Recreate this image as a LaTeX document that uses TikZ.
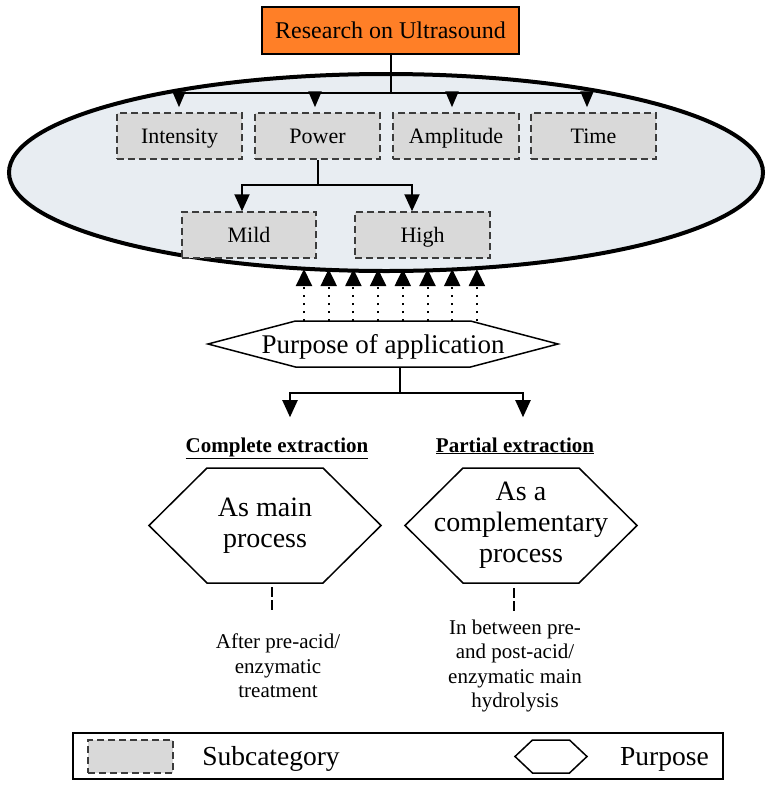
\documentclass[tikz,border=0pt]{standalone}
\usepackage{fontspec}
\setmainfont{Liberation Serif}
\usetikzlibrary{arrows.meta,shapes.geometric,calc}
\definecolor{orangeF}{RGB}{255,127,39}
\definecolor{ellF}{RGB}{232,237,242}
\definecolor{subF}{RGB}{217,217,217}
\definecolor{subD}{RGB}{60,60,60}
\newcommand{\myhex}[2]{\draw[hexline] (#1.west) -- ($(#1.north west)+(#2,0)$) -- ($(#1.north east)-(#2,0)$) -- (#1.east) -- ($(#1.south east)-(#2,0)$) -- ($(#1.south west)+(#2,0)$) -- cycle;}
\begin{document}
\begin{tikzpicture}[x=1pt,y=-1pt,
  conn/.style={line width=2pt},
  arr/.style={line width=2pt,-{Triangle[length=16pt,width=13pt]}},
  arrb/.style={line width=2pt,-{Triangle[length=17pt,width=15pt]}},
  dotarr/.style={line width=2pt,dash pattern=on 2pt off 6pt,-{Triangle[length=17pt,width=16pt]}},
  dline/.style={line width=2.5pt,dash pattern=on 10pt off 3pt},
  hexline/.style={line width=1.5pt,line join=miter},
  subbox/.style={draw=subD,fill=subF,line width=1.5pt,dash pattern=on 7pt off 4pt,minimum height=46pt,inner sep=0pt,font=\fontsize{22}{26}\selectfont,text height=14.5pt,text depth=0pt},
  hexnode/.style={inner sep=0pt,outer sep=0pt,align=center},
  big/.style={font=\fontsize{28}{31}\selectfont},
  small/.style={font=\fontsize{21}{24.5}\selectfont}]
\useasboundingbox (0,0) rectangle (771,788);

% ellipse background
\node[ellipse,draw,line width=4pt,fill=ellF,minimum width=754pt,minimum height=197pt,inner sep=0pt] (ell) at (386,172.5) {};

% top box
\node[draw,line width=1.2pt,fill=orangeF,minimum width=257pt,minimum height=47pt,inner sep=0pt,font=\fontsize{24}{28}\selectfont,text height=16pt,text depth=0pt] (res) at (390.5,30.5) {Research on Ultrasound};

% subcategories
\node[subbox,minimum width=125pt] (inten) at (179.5,136) {Intensity};
\node[subbox,minimum width=125pt] (power) at (317.5,136) {Power};
\node[subbox,minimum width=126pt] (ampl) at (456,136) {Amplitude};
\node[subbox,minimum width=125pt] (time) at (593.5,136) {Time};
\node[subbox,minimum width=134pt] (mild) at (249,235) {Mild};
\node[subbox,minimum width=135pt] (high) at (422.5,235) {High};

\coordinate (hb) at ($(res.south)+(0,38)$);
\draw[conn] (res.south) -- (hb);
\draw[arr,shorten >=5pt] (hb) -| ([xshift=-0.5pt]inten.north);
\draw[arr,shorten >=5pt] (hb) -| ([xshift=-2.5pt]power.north);
\draw[arr,shorten >=5pt] (hb) -| ([xshift=-4pt]ampl.north);
\draw[arr,shorten >=5pt] (hb) -| ([xshift=-6.5pt]time.north);

\coordinate (pm) at ($(power.south)+(0,25)$);
\draw[conn] (power.south) -- (pm);
\draw[arrb] (pm) -| ([xshift=-7pt]mild.north);
\draw[arrb] (pm) -| ([xshift=-10.5pt]high.north);

% purpose of application
\node[hexnode,font=\fontsize{27}{31}\selectfont,minimum width=350pt,minimum height=46pt,text height=18pt,text depth=0pt] (purp) at (383,344) {Purpose of application};
\myhex{purp}{87.5}

\foreach \i in {0,...,7} {
  \coordinate (d\i) at ($(purp.north west)+(96+\i*24.7,0)$);
  \draw[dotarr,shorten >=-4pt] (d\i) -- (d\i |- ell.south);
}

\coordinate (pj) at ($(purp.south)+(17,0)$);
\coordinate (pb) at ($(pj)+(0,26)$);
\draw[conn] (pj) -- (pb);

\node[anchor=base,inner sep=0pt,font=\bfseries\fontsize{21}{24}\selectfont] (ce) at (277,452) {\underline{Complete extraction}};
\node[anchor=base,inner sep=0pt,font=\bfseries\fontsize{21}{24}\selectfont] (pe) at (515,452) {\underline{Partial extraction}};
\draw[arrb,shorten >=20pt] (pb) -| ([xshift=13pt]ce.north);
\draw[arrb,shorten >=20pt] (pb) -| ([xshift=8pt]pe.north);

% hexagons
\node[hexnode,big,minimum width=232pt,minimum height=115pt] (hexL) at (265,525.5) {As main\\process};
\myhex{hexL}{58}
\node[hexnode,big,minimum width=232pt,minimum height=115pt] (hexR) at (521,525.5) {As a\\complementary\\process};
\myhex{hexR}{58}

\node[small,align=center,inner sep=0pt] (tL) at (278,666) {After pre-acid/\\enzymatic\\treatment};
\node[small,align=center,inner sep=0pt] (tR) at (515,666) {In between pre-\\and post-acid/\\enzymatic main\\hydrolysis};

\draw[dline,shorten <=4pt] ([xshift=7pt]hexL.south) -- ++(0,28);
\draw[dline,shorten <=5pt] ([xshift=-7pt]hexR.south) -- ++(0,29);

% legend
\node[draw,line width=1.5pt,minimum width=650pt,minimum height=46pt,inner sep=0pt] (leg) at (398,756) {};
\node[subbox,minimum width=85pt,minimum height=33pt] (lsub) at (130.5,756.5) {};
\node[font=\fontsize{27.5}{31}\selectfont,inner sep=0pt,text height=18pt,text depth=0pt] (lsubt) at (271,756.5) {Subcategory};
\node[hexnode,minimum width=72pt,minimum height=33pt] (lhex) at (551,756.5) {};
\myhex{lhex}{17.5}
\node[font=\fontsize{27.5}{31}\selectfont,inner sep=0pt,text height=18pt,text depth=0pt] (lhext) at (664.5,756.5) {Purpose};
\end{tikzpicture}
\end{document}
